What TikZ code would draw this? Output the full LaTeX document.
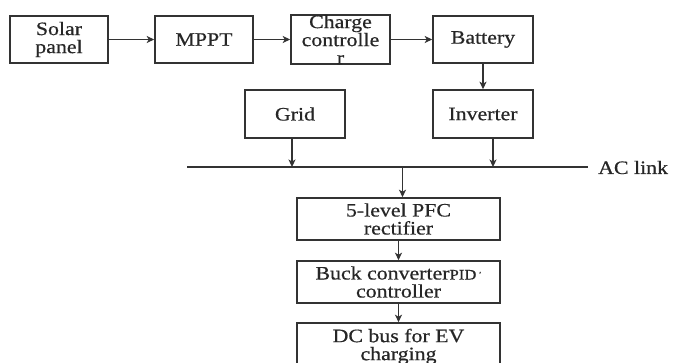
\documentclass[tikz,border=0pt]{standalone}
\usepackage{fontspec}
\setmainfont{Liberation Serif}[FakeStretch=1.15,FakeBold=0.6]
\usetikzlibrary{arrows.meta,calc}
\definecolor{ln}{HTML}{333333}
\definecolor{tx}{HTML}{262626}
\begin{document}
\begin{tikzpicture}[x=1pt,y=-1pt,
  blk/.style={draw=ln,line width=1.6pt,rectangle,inner sep=0pt,align=center,
    text=tx,font=\fontsize{19}{18}\selectfont},
  arr/.style={draw=ln,line width=1.3pt,-{Stealth[length=7.5pt,width=7pt,inset=2pt]}},
  bus/.style={draw=ln,line width=1.4pt}]
\useasboundingbox (0,0) rectangle (674,363);
\clip (0,0) rectangle (674,363);
\node[blk,minimum width=98pt,minimum height=47pt] (solar) at (59,39.5) {Solar\\panel};
\node[blk,minimum width=98pt,minimum height=47pt] (mppt) at (204,39.5) {MPPT};
\node[blk,minimum width=99pt,minimum height=47pt] (cc) at (340.5,39.5) {Charge\\controlle\\r};
\node[blk,minimum width=100pt,minimum height=47pt] (bat) at (483,39.5) {Battery};
\node[blk,minimum width=100pt,minimum height=48pt] (grid) at (295,114) {Grid};
\node[blk,minimum width=100pt,minimum height=48pt] (inv) at (483,114) {Inverter};
\coordinate (acL) at (187,167);
\coordinate (acR) at (588,167);
\coordinate (tap) at (402.5,167);
\node[anchor=west,text=tx,font=\fontsize{19}{18}\selectfont,inner sep=0pt] (aclink) at (598,167.5) {AC link};
\node[blk,minimum width=203pt,minimum height=42pt] (pfc) at (398.5,219) {5-level PFC\\rectifier};
\node[blk,minimum width=203pt,minimum height=42pt] (buck) at (398.5,282) {Buck converter{\fontsize{14.5}{12}\selectfont PID\,\raisebox{3pt}{\fontsize{7}{7}\selectfont'}}\\controller};
\node[blk,minimum width=203pt,minimum height=47pt] (dc) at (398.5,346.5) {DC bus for EV\\charging};
\draw[arr] (solar) -- (mppt);
\draw[arr] (mppt) -- (cc);
\draw[arr] (cc) -- (bat);
\draw[arr] (bat) -- (inv);
\draw[bus] (acL) -- (acR);
\draw[arr] ([xshift=-3pt]grid.south) -- ([xshift=-3pt]grid.south |- acL);
\draw[arr] ([xshift=10pt]inv.south) -- ([xshift=10pt]inv.south |- acL);
\draw[arr] (tap) -- (tap |- pfc.north);
\draw[arr] (pfc) -- (buck);
\draw[arr] (buck) -- (dc);
\end{tikzpicture}
\end{document}
